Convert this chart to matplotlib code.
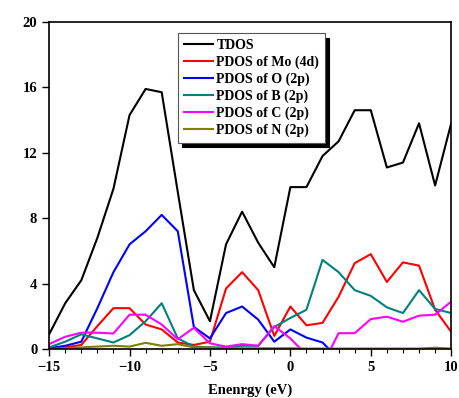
import matplotlib
matplotlib.use("Agg")
import matplotlib.pyplot as plt
import numpy as np

plt.rcParams['font.family'] = ['Liberation Serif', 'DejaVu Serif']
plt.rcParams['font.weight'] = 'bold'

# energy grid (eV) and density of states
energy = list(range(-15, 11))
tdos = [0.9, 2.8, 4.2, 6.8, 9.8, 14.3, 15.9, 15.7, 9.6, 3.6, 1.7, 6.4, 8.4, 6.5,
        5.0, 9.9, 9.9, 11.8, 12.7, 14.6, 14.6, 11.1, 11.4, 13.8, 10.0, 13.8]
mo_4d = [0.0, 0.1, 0.25, 1.4, 2.5, 2.5, 1.5, 1.2, 0.4, 0.25, 0.45, 3.7, 4.7, 3.6,
         0.8, 2.6, 1.45, 1.6, 3.2, 5.25, 5.8, 4.1, 5.3, 5.1, 2.4, 1.05]
o_2p = [0.05, 0.2, 0.45, 2.5, 4.7, 6.4, 7.2, 8.2, 7.2, 1.35, 0.65, 2.2, 2.6, 1.8,
        0.45, 1.2, 0.7, 0.4, -0.6, 0.0, 0.0, 0.0, 0.0, 0.0, 0.0, 0.0]
b_2p = [0.1, 0.45, 0.9, 0.65, 0.4, 0.85, 1.7, 2.8, 0.65, 0.15, 0.1, 0.1, 0.2, 0.2,
        1.35, 1.9, 2.4, 5.45, 4.7, 3.6, 3.25, 2.55, 2.2, 3.6, 2.45, 2.2]
c_2p = [0.3, 0.75, 1.0, 1.0, 0.95, 2.1, 2.1, 1.5, 0.6, 1.3, 0.35, 0.15, 0.3, 0.2,
        1.4, 0.65, -0.36, -0.98, 0.97, 0.97, 1.83, 1.98, 1.67, 2.04, 2.1, 2.9]
n_2p = [0.0, 0.05, 0.1, 0.15, 0.2, 0.15, 0.38, 0.2, 0.3, 0.1, 0.1, 0.05, 0.05, 0.05,
        0.05, 0.05, 0.03, 0.03, 0.03, 0.03, 0.03, 0.03, 0.03, 0.03, 0.08, 0.03]

series = [
    ("TDOS", tdos, "black"),
    ("PDOS of Mo (4d)", mo_4d, "#ff0000"),
    ("PDOS of O (2p)", o_2p, "#0000ff"),
    ("PDOS of B (2p)", b_2p, "#008080"),
    ("PDOS of C (2p)", c_2p, "#ff00ff"),
    ("PDOS of N (2p)", n_2p, "#808000"),
]

fig = plt.figure(figsize=(4.59, 3.98), dpi=100)
ax = fig.add_axes([0.107, 0.123, 0.876, 0.822])

for label, vals, color in series:
    ax.plot(energy, vals, color=color, linewidth=1.5, label=label)

ax.set_xlim(-15, 10)
ax.set_ylim(0, 20)
ax.set_xticks([-15, -10, -5, 0, 5, 10])
ax.set_xticks(np.arange(-15, 11, 1), minor=True)
ax.set_yticks([0, 4, 8, 12, 16, 20])
ax.tick_params(axis='both', which='major', direction='out', length=5, width=1,
               labelsize=10.5, top=False, right=False)
ax.tick_params(axis='x', which='minor', direction='out', length=3, width=0.8)
for lbl in ax.get_xticklabels() + ax.get_yticklabels():
    lbl.set_fontweight('bold')
for sp in ax.spines.values():
    sp.set_linewidth(1.2)

ax.set_xlabel("Enenrgy (eV)", fontsize=10.5, fontweight='bold', labelpad=7)

leg = ax.legend(loc='upper left', bbox_to_anchor=(0.321, 0.965), fontsize=10,
                fancybox=False, edgecolor='#555555', framealpha=1,
                shadow={'color': 'black', 'alpha': 1, 'ox': 3, 'oy': -3},
                handlelength=2.1, handletextpad=0.25, labelspacing=0.26,
                borderpad=0.4, borderaxespad=0,
                prop={'weight': 'bold', 'size': 10})
leg.get_frame().set_linewidth(0.8)

fig.savefig("out.png", dpi=100)
